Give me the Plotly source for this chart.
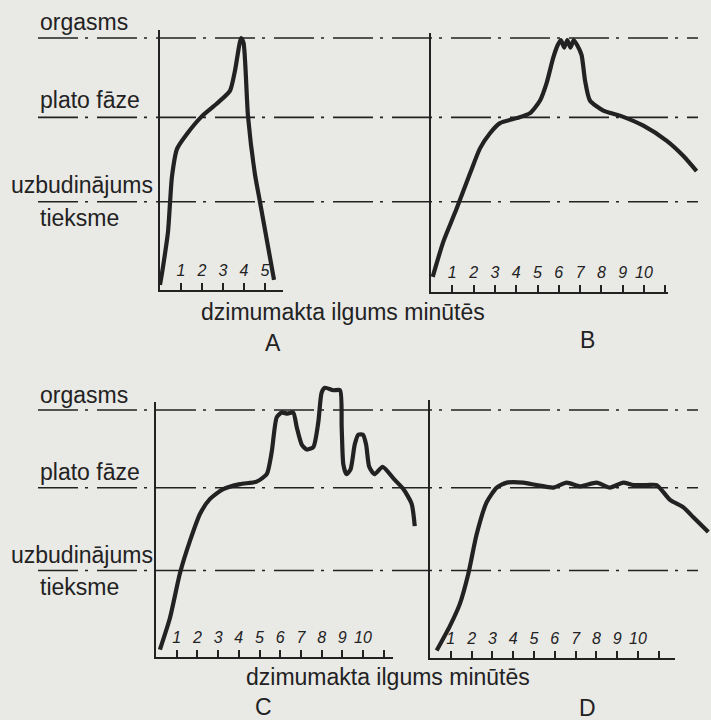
import plotly.graph_objects as go

W, H = 711, 720
BG = "#e9e9e6"
INK = "#222222"
FONT = "Liberation Sans, Arial, sans-serif"

# arousal level in % of the orgasm line
LEVEL_NAMES = ["uzbudinājums", "plato fāze", "orgasms"]
LEVELS = [35, 68.5, 100]
X_TITLE = "dzimumakta ilgums minūtēs"

# curve A
a_min = [0.0, 0.14, 0.38, 0.48, 0.57, 0.81, 1.29, 2.0, 2.71, 3.33, 3.57, 3.86, 3.98, 4.19, 4.52, 4.76, 5.43]
a_lvl = [2, 9, 23, 35, 45, 56, 62, 69, 74, 79, 87, 100, 98, 69, 46, 35, 4]

# curve B
b_min = [0.08, 0.58, 1.2, 1.83, 2.3, 2.77, 3.24, 4.02, 4.65, 5.12, 5.43, 5.74, 5.95, 6.1, 6.25, 6.4, 6.55, 6.7,
         6.86, 7.07, 7.23, 7.46, 8.09, 8.87, 9.97, 11.07, 11.85, 12.47]
b_lvl = [6, 20, 33, 47, 57, 63, 67, 69, 71, 76, 83, 93, 98, 100, 97, 100, 97, 100, 98, 94, 84, 76, 72, 70, 66, 60,
         54, 48]

# curve C
c_min = [0.19, 0.68, 1.16, 1.64, 2.13, 2.61, 3.25, 4.06, 4.86, 5.35, 5.59, 5.83, 6.07, 6.35, 6.63, 6.8, 7.04, 7.28,
         7.6, 7.84, 8.0, 8.16, 8.57, 8.89, 8.97, 9.05, 9.2, 9.4, 9.6, 9.77, 10.0, 10.15, 10.3, 10.55, 10.95, 11.5,
         11.95, 12.35, 12.5]
c_lvl = [3, 16, 34, 47, 58, 64, 68, 70, 71, 74, 83, 97, 99, 98.5, 99, 93, 86, 84, 85, 95, 107, 109, 108, 108, 93, 78,
         74, 76, 86, 90, 90, 86, 77, 74, 77, 72, 68, 62, 53]

# curve D
d_min = [0.32, 0.96, 1.44, 1.84, 2.24, 2.72, 3.21, 3.69, 4.49, 5.13, 5.93, 6.57, 7.21, 8.01, 8.65, 9.29, 9.78, 10.42,
         10.9, 11.54, 12.18, 12.66, 13.38]
d_lvl = [3, 13, 22, 34, 50, 63, 69, 71, 71, 70, 69, 71, 69.5, 71, 69, 71, 70, 70, 70, 64, 61, 57, 51]

A_TICKS = [1, 2, 3, 4, 5]
LONG_TICKS = [1, 2, 3, 4, 5, 6, 7, 8, 9, 10, 11]
LONG_LABELS = ["1", "2", "3", "4", "5", "6", "7", "8", "9", "10", ""]

# panel geometry in pixels: origin, px per minute, px per level %, axis end, axis top
panels = [
    dict(name="A", x=a_min, y=a_lvl, ox=160, oy=290, ux=21.0, uy=2.52, xend=283, ytop=30,
         ticks=A_TICKS, labels=[str(t) for t in A_TICKS], box=(150, 350, 15, 300)),
    dict(name="B", x=b_min, y=b_lvl, ox=431, oy=292, ux=21.3, uy=2.52, xend=668, ytop=33,
         ticks=LONG_TICKS, labels=LONG_LABELS, box=(420, 711, 15, 300)),
    dict(name="C", x=c_min, y=c_lvl, ox=156, oy=657, ux=20.7, uy=2.47, xend=393, ytop=402,
         ticks=LONG_TICKS, labels=LONG_LABELS, box=(146, 425, 375, 665)),
    dict(name="D", x=d_min, y=d_lvl, ox=430, oy=658, ux=20.8, uy=2.47, xend=675, ytop=400,
         ticks=LONG_TICKS, labels=LONG_LABELS, box=(425, 711, 375, 665)),
]


def px(x):
    return x / W


def py(y):
    return 1 - y / H


fig = go.Figure()
layout = {}
n = 0
for p in panels:
    # curve axes
    n += 1
    x0, x1, yt, yb = p["box"]
    p["yref"] = f"y{n}"
    layout[f"xaxis{n}"] = dict(domain=[px(x0), px(x1)], range=[(x0 - p["ox"]) / p["ux"], (x1 - p["ox"]) / p["ux"]],
                               anchor=f"y{n}", visible=False)
    layout[f"yaxis{n}"] = dict(domain=[py(yb), py(yt)], range=[(p["oy"] - yb) / p["uy"], (p["oy"] - yt) / p["uy"]],
                               anchor=f"x{n}", visible=False)
    fig.add_trace(go.Scatter(x=p["x"], y=p["y"], mode="lines", xaxis=f"x{n}", yaxis=f"y{n}",
                             line=dict(color=INK, width=4.2, shape="spline", smoothing=0.6),
                             showlegend=False, hoverinfo="skip"))
    # frame axes
    n += 1
    layout[f"xaxis{n}"] = dict(domain=[px(p["ox"]), px(p["xend"])], range=[0, (p["xend"] - p["ox"]) / p["ux"]],
                               anchor=f"y{n}", showline=True, linecolor=INK, linewidth=2, showgrid=False,
                               zeroline=False, ticks="inside", ticklen=7, tickwidth=1.5, tickcolor=INK,
                               tickvals=p["ticks"], ticktext=p["labels"], ticklabelposition="inside",
                               ticklabelstandoff=4,
                               tickfont=dict(family=FONT, size=16, color=INK, style="italic"))
    layout[f"yaxis{n}"] = dict(domain=[py(p["oy"]), py(p["ytop"])], range=[0, 1], anchor=f"x{n}",
                               showline=True, linecolor=INK, linewidth=2, showgrid=False, zeroline=False,
                               showticklabels=False, ticks="")
    fig.add_trace(go.Scatter(x=[], y=[], xaxis=f"x{n}", yaxis=f"y{n}", showlegend=False))

# dash-dot level lines across each row
for p in (panels[0], panels[2]):
    for lv in LEVELS:
        fig.add_shape(type="line", xref="paper", yref=p["yref"], x0=px(38), x1=px(698), y0=lv, y1=lv,
                      line=dict(color=INK, width=1.6, dash="40px,7px,3px,9px"), layer="below")

txt = dict(family=FONT, size=23, color=INK)
annotations = []
row_labels = [
    [("orgasms", 22), ("plato fāze", 100), ("uzbudinājums", 185), ("tieksme", 218)],
    [("orgasms", 395), ("plato fāze", 472), ("uzbudinājums", 555), ("tieksme", 587)],
]
for rows in row_labels:
    for label, yy in rows:
        xx = 9 if label == "uzbudinājums" else 38
        annotations.append(dict(text=label, x=px(xx), y=py(yy), xref="paper", yref="paper",
                                xanchor="left", yanchor="middle", showarrow=False, font=txt))

for xx, yy in ((343, 312), (388, 677)):
    annotations.append(dict(text=X_TITLE, x=px(xx), y=py(yy), xref="paper", yref="paper", showarrow=False,
                            xanchor="center", yanchor="middle", font=txt))
for letter, xx, yy in (("A", 273, 343), ("B", 587, 340), ("C", 263, 707), ("D", 587, 708)):
    annotations.append(dict(text=letter, x=px(xx), y=py(yy), xref="paper", yref="paper", showarrow=False,
                            xanchor="center", yanchor="middle", font=dict(family=FONT, size=23, color=INK)))

fig.update_layout(
    width=W, height=H, margin=dict(l=0, r=0, t=0, b=0),
    paper_bgcolor=BG, plot_bgcolor="rgba(0,0,0,0)",
    annotations=annotations, **layout,
)
fig.write_html("out.html", config={"displayModeBar": False},
               post_script="document.body.style.margin='0';")
